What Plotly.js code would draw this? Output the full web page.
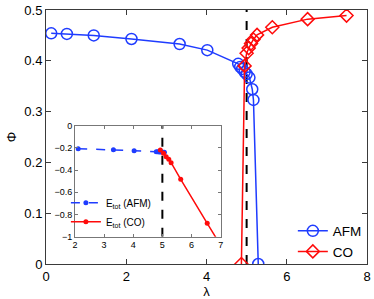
<!DOCTYPE html>
<html><head><meta charset="utf-8">
<script src="https://cdn.plot.ly/plotly-3.0.1.min.js"></script>
<style>html,body{margin:0;padding:0;background:#fff}#chart{width:374px;height:299px}</style>
</head><body><div id="chart"></div>
<script>
// Main panel: order parameter Phi vs lambda
const afmLambda = [0.13, 0.52, 1.19, 2.13, 3.33, 4.02, 4.79, 4.84, 4.89, 4.95, 5.0, 5.07, 5.14, 5.17, 5.29];
const afmPhi    = [0.454, 0.453, 0.450, 0.443, 0.433, 0.421, 0.394, 0.388, 0.384, 0.378, 0.374, 0.367, 0.344, 0.323, 0.0];
const coLambda  = [4.87, 4.95, 5.0, 5.05, 5.11, 5.17, 5.26, 5.64, 6.52, 7.49];
const coPhi     = [0.0, 0.39, 0.415, 0.425, 0.434, 0.442, 0.451, 0.466, 0.482, 0.489];
// Inset: total energy
const insAfmLambda = [2.11, 3.32, 4.03, 4.79, 4.84, 4.89, 4.95, 5.0, 5.07];
const insAfmE      = [-0.207, -0.216, -0.225, -0.234, -0.235, -0.236, -0.237, -0.238, -0.24];
const insCoLambda  = [4.93, 5.04, 5.13, 5.22, 5.3, 5.63, 6.54, 7.49];
const insCoE       = [-0.219, -0.249, -0.279, -0.303, -0.333, -0.483, -0.879, -1.29];
const criticalLambda = 5;
const mainXTicks = [0, 2, 4, 6, 8];
const mainYTicks = [0, 0.1, 0.2, 0.3, 0.4, 0.5];
const insXTicks = [2, 3, 4, 5, 6, 7];
const insYTicks = [0, -0.2, -0.4, -0.6, -0.8, -1];
const insYLabels = ['0', '−0.2', '−0.4', '−0.6', '−0.8', '−1'];

const BLUE = '#1f3cff', RED = '#ff0a0a';
const FONT = 'Liberation Sans, Arial, sans-serif';

const traces = [
  {x: afmLambda, y: afmPhi, name: 'AFM', type: 'scatter', mode: 'lines+markers',
   line: {color: BLUE, width: 1.5}, marker: {symbol: 'circle-open', size: 11, color: BLUE, line: {width: 1.5}},
   xaxis: 'x', yaxis: 'y', legend: 'legend'},
  {x: coLambda, y: coPhi, name: 'CO', type: 'scatter', mode: 'lines+markers',
   line: {color: RED, width: 1.5}, marker: {symbol: 'diamond-open', size: 10, color: RED, line: {width: 1.5}},
   xaxis: 'x', yaxis: 'y', legend: 'legend'},
  {x: insAfmLambda, y: insAfmE, name: 'E<sub>tot</sub> (AFM)', type: 'scatter', mode: 'lines+markers',
   line: {color: BLUE, width: 1.5, dash: 'dash'}, marker: {symbol: 'circle', size: 5, color: BLUE},
   xaxis: 'x2', yaxis: 'y2', legend: 'legend2'},
  {x: insCoLambda, y: insCoE, name: 'E<sub>tot</sub> (CO)', type: 'scatter', mode: 'lines+markers',
   line: {color: RED, width: 1.5}, marker: {symbol: 'circle', size: 5, color: RED},
   xaxis: 'x2', yaxis: 'y2', legend: 'legend2'}
];

const axCommon = {showline: true, mirror: 'ticks', linecolor: '#3a3a3a', linewidth: 1,
  ticks: 'inside', ticklen: 5, tickcolor: '#3a3a3a', showgrid: false, zeroline: false};

const layout = {
  width: 374, height: 299,
  margin: {l: 46, r: 7, t: 10, b: 35},
  paper_bgcolor: '#fff', plot_bgcolor: '#fff',
  font: {family: FONT, color: '#000'},
  xaxis: Object.assign({}, axCommon, {range: [0, 8], tickvals: mainXTicks, ticktext: mainXTicks.map(String),
    tickfont: {size: 13}, domain: [0, 1],
    title: {text: 'λ', font: {size: 13}, standoff: 0}}),
  yaxis: Object.assign({}, axCommon, {range: [0, 0.5], tickvals: mainYTicks, ticktext: mainYTicks.map(v => v === 0 ? '0' : v.toFixed(1)),
    tickfont: {size: 13}, domain: [0, 1],
    title: {text: 'Φ', font: {size: 13}, standoff: 4}}),
  xaxis2: Object.assign({}, axCommon, {range: [2, 7], tickvals: insXTicks, ticktext: insXTicks.map(String),
    tickfont: {size: 9}, ticklen: 3, linecolor: '#777', tickcolor: '#777', domain: [0.0903, 0.544], anchor: 'y2'}),
  yaxis2: Object.assign({}, axCommon, {range: [-1, 0], tickvals: insYTicks, ticktext: insYLabels,
    tickfont: {size: 9}, ticklen: 3, linecolor: '#777', tickcolor: '#777', domain: [0.1075, 0.5445], anchor: 'x2'}),
  shapes: [
    {type: 'line', xref: 'x', yref: 'y', x0: criticalLambda, x1: criticalLambda, y0: 0, y1: 0.5,
     line: {color: '#000', width: 2, dash: 'dash'}, layer: 'below'},
    {type: 'line', xref: 'x2', yref: 'y2', x0: criticalLambda, x1: criticalLambda, y0: -1, y1: 0,
     line: {color: '#000', width: 2, dash: 'dash'}, layer: 'below'}
  ],
  legend: {x: 0.9995, y: -0.014, xanchor: 'right', yanchor: 'bottom', bgcolor: 'rgba(0,0,0,0)',
    borderwidth: 0, font: {size: 13.5}, tracegroupgap: 0, itemwidth: 30},
  legend2: {x: 0.062, y: 0.298, xanchor: 'left', yanchor: 'top', bgcolor: 'rgba(0,0,0,0)',
    borderwidth: 0, font: {size: 10}, tracegroupgap: 0, itemwidth: 30},
  showlegend: true
};

Plotly.newPlot('chart', traces, layout, {displayModeBar: false, staticPlot: true});
</script></body></html>
